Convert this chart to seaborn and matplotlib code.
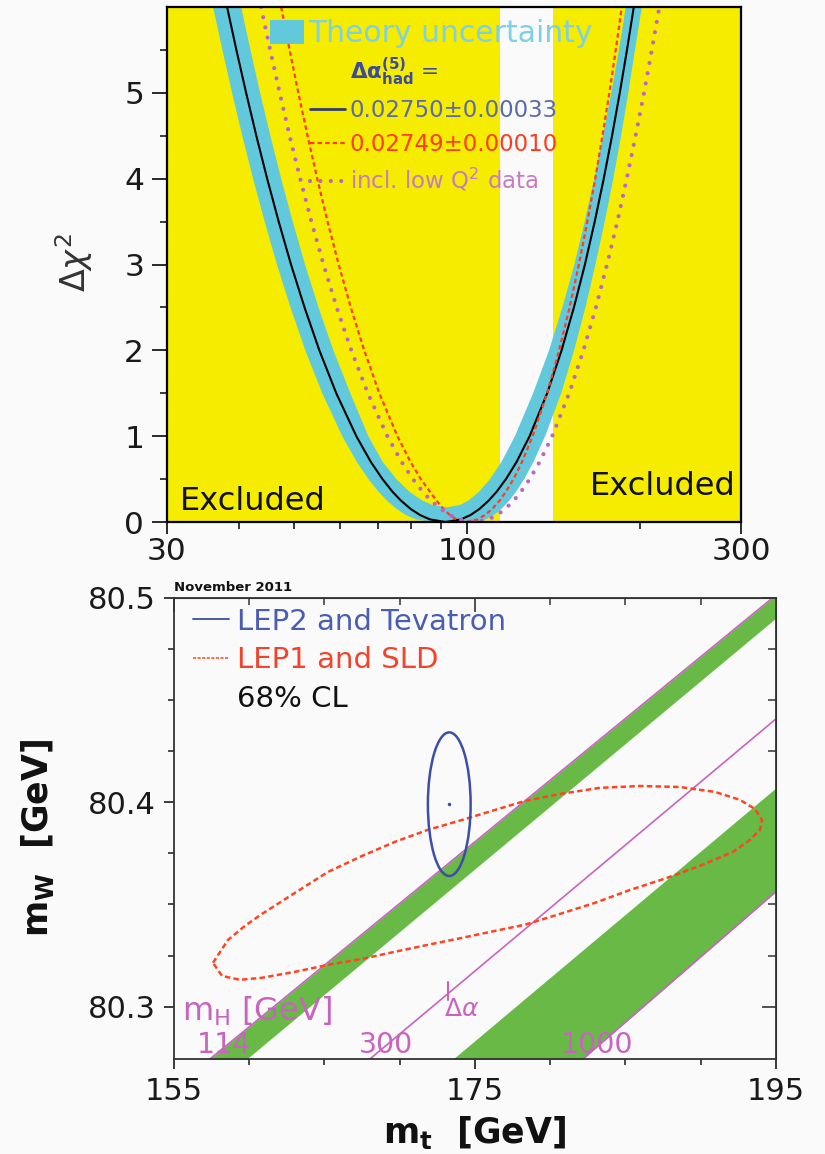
import matplotlib
matplotlib.use("Agg")
import matplotlib.pyplot as plt
import seaborn as sns
from matplotlib.patches import Patch, Ellipse
from matplotlib.lines import Line2D
from matplotlib.ticker import FixedLocator, NullFormatter

# ---------------- data: top panel (Delta chi^2 vs m_H) ----------------
excl_low = [30, 114]
excl_high = [141, 300]

lev_left = [6, 5.5, 5, 4.5, 4, 3.5, 3, 2.5, 2, 1.5, 1, 0.7, 0.5, 0.35, 0.25, 0.15, 0.08, 0.03, 0]
lev_right = [0.03, 0.08, 0.15, 0.25, 0.35, 0.5, 0.7, 1, 1.5, 2, 2.5, 3, 3.5, 4, 4.5, 5, 5.5, 6]
curve_d = lev_left + lev_right

black_m = [38.18, 39.63, 41.21, 42.93, 44.84, 46.96, 49.34, 52.09, 55.28, 59.16, 64.12,
           67.96, 71.21, 74.18, 76.67, 79.81, 82.85, 86.18, 91.68,
           97.50, 101.29, 104.98, 109.06, 112.49, 116.87, 121.95, 128.49, 137.86, 146.07,
           153.47, 160.41, 166.85, 172.99, 178.86, 184.48, 189.90, 195.16]

red_m = [47.43, 49.06, 50.81, 52.72, 54.82, 57.13, 59.74, 62.71, 66.18, 70.32, 75.60,
         79.69, 83.05, 86.22, 88.43, 90.95, 93.36, 95.83, 99.36,
         104.22, 107.41, 110.52, 113.95, 116.77, 120.44, 124.63, 130.05, 137.86, 144.61,
         150.84, 156.58, 161.96, 167.18, 172.09, 176.93, 181.54, 185.97]

mag_m = [43.75, 45.38, 47.15, 49.06, 51.20, 53.55, 56.22, 59.26, 62.84, 67.15, 72.62,
         76.89, 80.46, 83.76, 86.49, 89.97, 93.32, 96.95, 103.01,
         108.84, 112.63, 116.40, 120.54, 124.03, 128.55, 133.76, 140.65, 150.60, 159.44,
         167.66, 175.30, 182.71, 189.74, 196.57, 203.32, 209.80, 216.22]

band_outer_m = [36.09, 37.47, 38.95, 40.58, 42.38, 44.39, 46.64, 49.24, 52.26, 55.93, 60.61,
                64.24, 67.31, 70.13, 72.48, 75.45, 78.32, 81.47, 86.67,
                102.60, 107.84, 111.28, 114.68, 118.48, 121.61, 125.74, 130.47, 136.75, 145.83,
                153.59, 160.73, 167.32, 173.69, 179.73, 185.45, 190.89, 196.10, 201.53]
band_outer_d = lev_left + [0] + lev_right

band_inner_m = [40.39, 41.93, 43.59, 45.42, 47.43, 49.68, 52.19, 55.10, 58.48, 62.59, 67.28,
                71.29, 75.30, 79.43, 83.55, 86.88, 92.42,
                97.30, 100.52, 104.85, 109.63, 114.77, 121.17, 130.31, 138.91, 146.54,
                153.78, 160.28, 166.51, 172.51, 178.29, 183.89, 188.98]
band_inner_d = [6, 5.5, 5, 4.5, 4, 3.5, 3, 2.5, 2, 1.5, 1, 0.7, 0.5, 0.35, 0.25, 0.2, 0.17,
                0.2, 0.25, 0.35, 0.5, 0.7, 1, 1.5, 2, 2.5, 3, 3.5, 4, 4.5, 5, 5.5, 6]

top_xticks = [30, 100, 300]
top_xminor = [40, 50, 60, 70, 80, 90, 200]
top_yticks = [0, 1, 2, 3, 4, 5]
top_yminor = [0.5, 1.5, 2.5, 3.5, 4.5, 5.5]

legend_top_labels = [r"$\mathbf{\Delta\alpha^{(5)}_{had}}$ =",
                     "0.02750\u00b10.00033", "0.02749\u00b10.00010",
                     r"incl. low Q$^2$ data"]

# ---------------- data: bottom panel (m_W vs m_t) ----------------
mt_edge = [155, 195]
mh114_mw = [80.2601, 80.5012]
band1_low_mw = [80.2449, 80.4900]
mh300_mw = [80.1943, 80.4407]
band2_up_mw = [80.1600, 80.4070]
mh1000_mw = [80.1011, 80.3563]

lep1_mt = [157.59, 158.59, 159.72, 160.85, 163.04, 165.23, 167.49, 169.68, 171.88, 174.14,
           176.33, 178.32, 180.65, 183.31, 185.96, 188.62, 190.95, 192.61, 193.60, 194.07,
           193.94, 193.27, 192.14, 189.95, 187.76, 185.30, 182.97, 180.65, 178.32, 176.33,
           174.14, 171.88, 169.68, 167.49, 165.23, 163.04, 160.85, 159.39, 158.19, 157.59]
lep1_mw = [80.3215, 80.3327, 80.3396, 80.3454, 80.3557, 80.3659, 80.3737, 80.3806, 80.3865, 80.3913,
           80.3962, 80.4006, 80.4040, 80.4070, 80.4079, 80.4074, 80.4050, 80.4011, 80.3967, 80.3913,
           80.3865, 80.3816, 80.3757, 80.3689, 80.3630, 80.3571, 80.3508, 80.3454, 80.3401, 80.3371,
           80.3337, 80.3303, 80.3269, 80.3234, 80.3205, 80.3171, 80.3142, 80.3132, 80.3151, 80.3215]

lep2_mt, lep2_mw = 173.29, 80.399
lep2_dmt, lep2_dmw = 1.42, 0.0351

dalpha_mt = [173.2, 173.2]
dalpha_mw = [80.3122, 80.3034]

bot_xticks = [155, 175, 195]
bot_xminor = [160, 165, 170, 180, 185, 190]
bot_yticks = [80.3, 80.4, 80.5]
bot_yminor = [80.325, 80.35, 80.375, 80.425, 80.45, 80.475]

# ---------------- style ----------------
sns.set_style("ticks")
plt.rcParams['font.family'] = ['DejaVu Sans']
plt.rcParams['mathtext.fontset'] = 'dejavusans'

BG = '#fafafa'
YELLOW = '#f5ec00'
CYAN = '#62c8dc'
RED = '#ff3d1f'
MAG = '#bd64c6'
GREEN = '#68b945'
MLINE = '#c864c0'
BLUE = '#3b4fa8'
TICKC = '#1a1a1a'

fig = plt.figure(figsize=(8.25, 11.54), dpi=100, facecolor=BG)

# ================= top panel =================
ax1 = fig.add_axes([0.2024, 0.54766, 0.69576, 0.44627])
ax1.set_facecolor(BG)
ax1.set_xscale('log')
ax1.axvspan(excl_low[0], excl_low[1], color=YELLOW, lw=0, zorder=0)
ax1.axvspan(excl_high[0], excl_high[1], color=YELLOW, lw=0, zorder=0)

poly_x = band_outer_m + band_inner_m[::-1]
poly_y = band_outer_d + band_inner_d[::-1]
ax1.fill(poly_x, poly_y, color=CYAN, lw=0, zorder=1)

sns.lineplot(x=black_m, y=curve_d, ax=ax1, color='black', lw=1.5,
             estimator=None, sort=False, legend=False, zorder=3)
sns.lineplot(x=red_m, y=curve_d, ax=ax1, color=RED, lw=1.6, linestyle=(0, (2.0, 1.4)),
             estimator=None, sort=False, legend=False, zorder=4)
sns.lineplot(x=mag_m, y=curve_d, ax=ax1, color=MAG, lw=3.0, linestyle=(0, (0.001, 2.5)),
             dash_capstyle='round', estimator=None, sort=False, legend=False, zorder=4)

ax1.set_xlim(30, 300)
ax1.set_ylim(0, 6)
ax1.set_xticks(top_xticks)
ax1.set_xticklabels([str(v) for v in top_xticks])
ax1.xaxis.set_minor_locator(FixedLocator(top_xminor))
ax1.xaxis.set_minor_formatter(NullFormatter())
ax1.set_yticks(top_yticks)
ax1.set_yticklabels([str(v) for v in top_yticks])
ax1.yaxis.set_minor_locator(FixedLocator(top_yminor))
ax1.tick_params(axis='y', which='major', direction='out', length=10.5, width=1.3,
                labelsize=22.5, pad=6, colors=TICKC)
ax1.tick_params(axis='y', which='minor', direction='out', length=5, width=1.2, colors=TICKC)
ax1.tick_params(axis='x', which='major', direction='out', length=8.5, width=1.3,
                labelsize=22.5, pad=2, colors=TICKC)
ax1.tick_params(axis='x', which='minor', direction='out', length=5, width=1.2, colors=TICKC)
for s in ax1.spines.values():
    s.set_linewidth(1.6)
    s.set_color('black')
    s.set_zorder(5)

ax1.set_ylabel(r"$\Delta\chi^2$", fontsize=24, color='#333333')
ax1.yaxis.label.set_va('baseline')
ax1.yaxis.set_label_coords(-0.141, 0.503)

ax1.text(31.6, 0.14, "Excluded", fontsize=23, ha='left', va='baseline', color='#111111', zorder=6)
ax1.text(294, 0.31, "Excluded", fontsize=23, ha='right', va='baseline', color='#111111', zorder=6)

leg1 = ax1.legend([Patch(facecolor=CYAN, edgecolor='none')], ["Theory uncertainty"],
                  loc='upper left', bbox_to_anchor=(0.179, 0.976), frameon=False,
                  fontsize=21.5, handlelength=1.15, handleheight=0.82, handletextpad=0.15,
                  borderpad=0, borderaxespad=0, labelcolor=['#7dd1e2'])
ax1.add_artist(leg1)

h2 = [Line2D([], [], color='none'),
      Line2D([], [], color='#303c6c', lw=2),
      Line2D([], [], color=RED, lw=1.6, ls=(0, (2.0, 1.4))),
      Line2D([], [], color=MAG, lw=3.0, ls=(0, (0.001, 2.5)), dash_capstyle='round')]
leg2 = ax1.legend(h2, legend_top_labels, loc='upper left', bbox_to_anchor=(0.2497, 0.907),
                  frameon=False, fontsize=16.5, handlelength=1.5, handletextpad=0.22,
                  labelspacing=0.48, borderpad=0, borderaxespad=0,
                  labelcolor=['#3c4b9b', '#5a6aaa', '#ff3b20', '#c57cc0'])
leg2.get_texts()[0].set_fontsize(15.5)

# ================= bottom panel =================
ax2 = fig.add_axes([0.2109, 0.08232, 0.7297, 0.39991])
ax2.set_facecolor(BG)
ax2.fill_between(mt_edge, band1_low_mw, mh114_mw, color=GREEN, lw=0, zorder=1)
ax2.fill_between(mt_edge, mh1000_mw, band2_up_mw, color=GREEN, lw=0, zorder=1)
for mw in (mh114_mw, mh300_mw, mh1000_mw):
    sns.lineplot(x=mt_edge, y=mw, ax=ax2, color=MLINE, lw=1.2,
                 estimator=None, sort=False, legend=False, zorder=2)
sns.lineplot(x=dalpha_mt, y=dalpha_mw, ax=ax2, color=MLINE, lw=1.5,
             estimator=None, sort=False, legend=False, zorder=2)
sns.lineplot(x=lep1_mt, y=lep1_mw, ax=ax2, color='#ff4422', lw=1.8,
             linestyle=(0, (2.2, 1.3)), estimator=None, sort=False, legend=False, zorder=3)
ax2.add_patch(Ellipse((lep2_mt, lep2_mw), 2 * lep2_dmt, 2 * lep2_dmw, fill=False,
                      ec=BLUE, lw=1.8, zorder=4))
ax2.plot([lep2_mt], [lep2_mw], marker='o', ms=1.5, color=BLUE, zorder=4)

ax2.set_xlim(155, 195)
ax2.set_ylim(80.2745, 80.5)
ax2.set_xticks(bot_xticks)
ax2.set_xticklabels([str(v) for v in bot_xticks])
ax2.xaxis.set_minor_locator(FixedLocator(bot_xminor))
ax2.set_yticks(bot_yticks)
ax2.set_yticklabels(["%.1f" % v for v in bot_yticks])
ax2.yaxis.set_minor_locator(FixedLocator(bot_yminor))
ax2.tick_params(which='major', direction='out', length=7, width=1.2, labelsize=22,
                pad=6, colors=TICKC)
ax2.tick_params(which='minor', direction='out', length=4.5, width=1.1, colors=TICKC)
for s in ax2.spines.values():
    s.set_linewidth(1.3)
    s.set_color('#333333')

secx = ax2.secondary_xaxis('top')
secx.set_xticks(bot_xticks)
secx.set_xticklabels([])
secx.xaxis.set_minor_locator(FixedLocator(bot_xminor))
secx.tick_params(which='major', direction='in', length=10, width=1.2, colors='#333333')
secx.tick_params(which='minor', direction='in', length=5, width=1.1, colors='#333333')
secy = ax2.secondary_yaxis('right')
secy.set_yticks(bot_yticks)
secy.set_yticklabels([])
secy.yaxis.set_minor_locator(FixedLocator(bot_yminor))
secy.tick_params(which='major', direction='in', length=10, width=1.2, colors='#333333')
secy.tick_params(which='minor', direction='in', length=6, width=1.1, colors='#333333')

ax2.set_xlabel(r"$\mathbf{m_t}$  [GeV]", fontsize=25, fontweight='bold', color='#111111')
ax2.xaxis.label.set_va('baseline')
ax2.xaxis.set_label_coords(0.5, -0.182)
ax2.set_ylabel(r"$\mathbf{m_W}$  [GeV]", fontsize=25, fontweight='bold', color='#111111')
ax2.yaxis.label.set_va('baseline')
ax2.yaxis.set_label_coords(-0.209, 0.48)

ax2.text(0.0, 1.008, "November 2011", transform=ax2.transAxes, fontsize=9.5,
         fontweight='bold', va='bottom', ha='left', color='#111111')

ax2.text(155.53, 80.2978, r"$\mathregular{m_H}$ [GeV]", fontsize=23, color=MLINE,
         ha='left', va='center', zorder=5)
ax2.text(158.32, 80.2812, "114", fontsize=20.5, color=MLINE, ha='center', va='center', zorder=5)
ax2.text(169.09, 80.2812, "300", fontsize=20.5, color=MLINE, ha='center', va='center', zorder=5)
ax2.text(183.1, 80.2812, "1000", fontsize=20.5, color=MLINE, ha='center', va='center', zorder=5)
ax2.text(174.14, 80.2990, r"$\Delta\alpha$", fontsize=18, color=MLINE, ha='center',
         va='center', zorder=5)

h3 = [Line2D([], [], color=BLUE, lw=1.3),
      Line2D([], [], color='#ff4422', lw=1.1, ls=(0, (2, 1))),
      Line2D([], [], color='none')]
ax2.legend(h3, ["LEP2 and Tevatron", "LEP1 and SLD", "68% CL"], loc='upper left',
           bbox_to_anchor=(0.0316, 0.978), frameon=False, fontsize=21,
           handlelength=1.22, handletextpad=0.28, labelspacing=0.36, borderpad=0,
           borderaxespad=0, labelcolor=['#4a5db3', '#f0452c', '#111111'])

fig.savefig("out.png", dpi=100, facecolor=BG)
